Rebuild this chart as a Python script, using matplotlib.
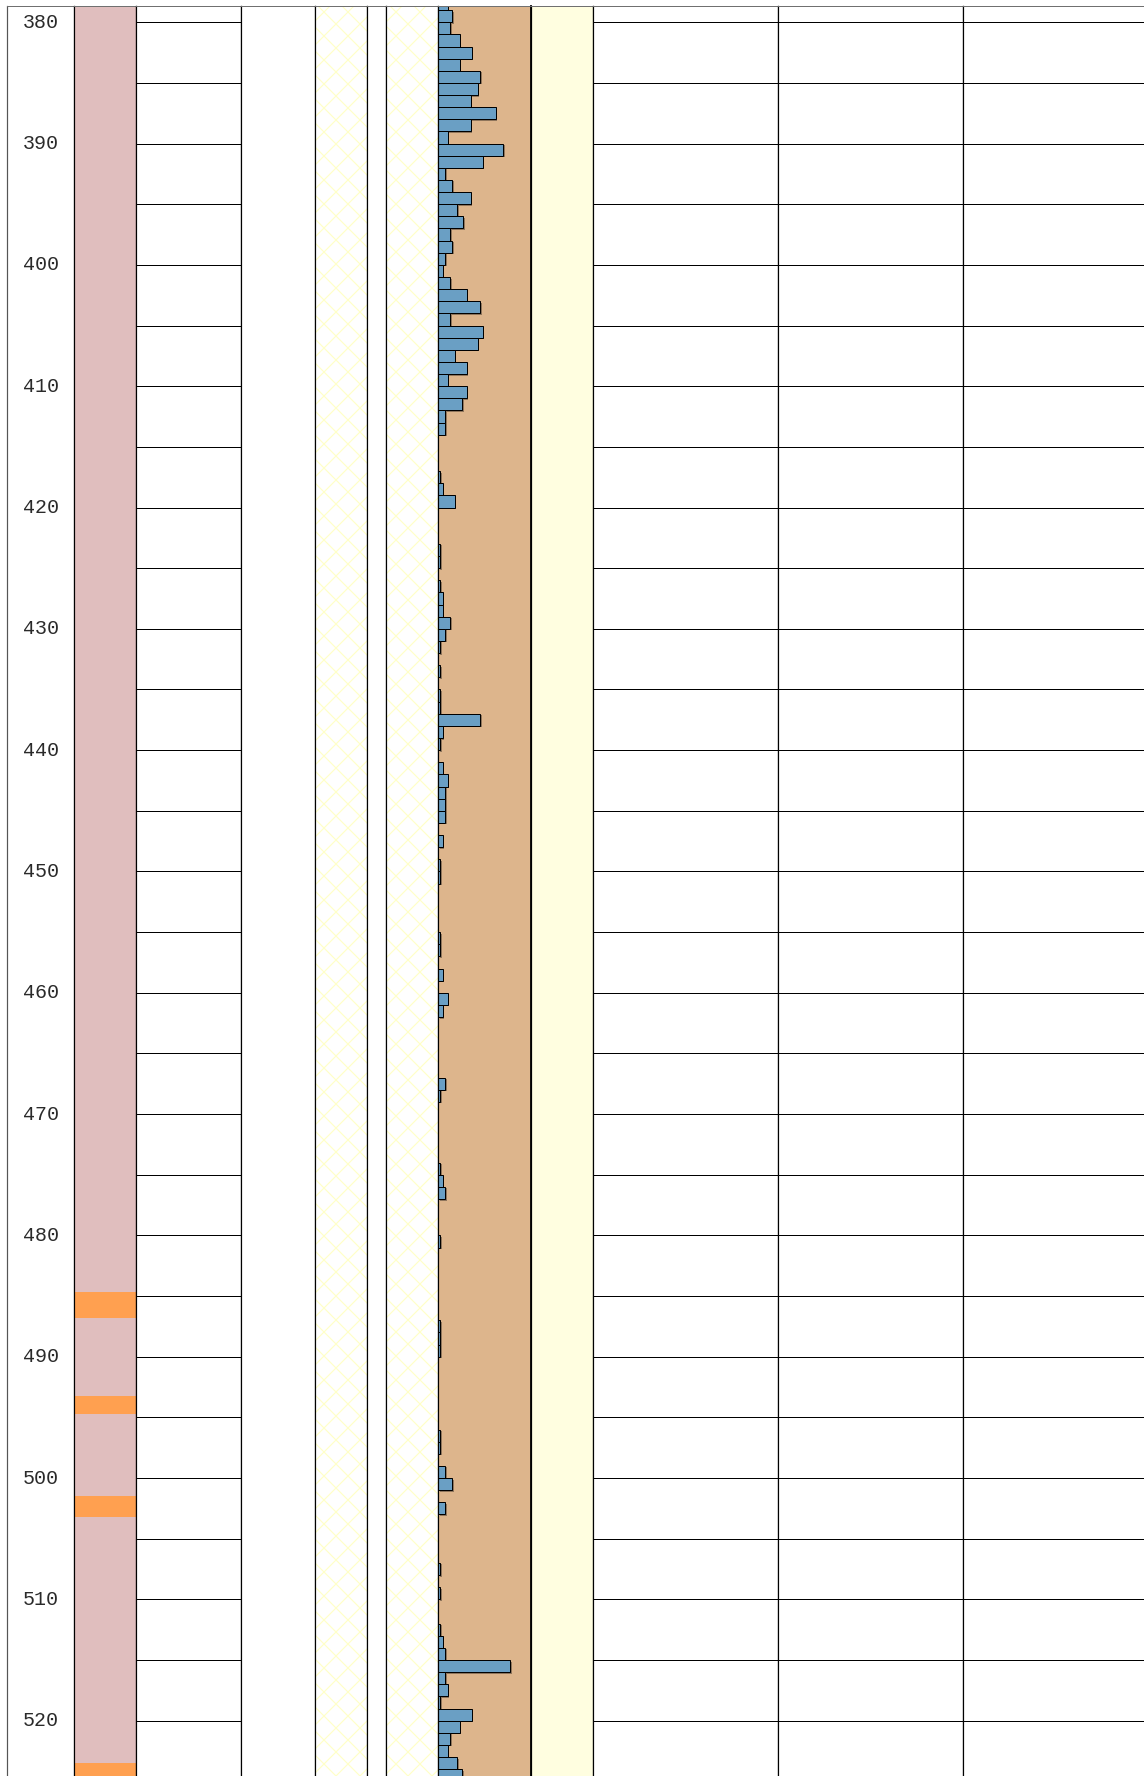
import numpy as np
import matplotlib
matplotlib.use("Agg")
import matplotlib.pyplot as plt
from matplotlib import patheffects
from matplotlib.patches import Rectangle

W, H = 1144, 1776
DPI = 72

# depth window of the log (m)
depth_min, depth_max = 378.66, 524.56

# depth labels and grid spacing
label_depths = list(range(380, 521, 10))
grid_depths = list(range(380, 521, 5))

# lithology: background unit and thin interbeds (top, base)
interbeds = [(484.7, 486.8), (493.2, 494.7), (501.5, 503.2), (523.45, 526.0)]

# fracture counts per 1 m interval, keyed by interval top
interval_top = list(range(378, 525))
counts = [
    4, 6, 5, 9, 14, 9, 17.5, 16.5, 13.5, 24,      # 378-387
    13.5, 4, 27, 18.5, 3, 6, 13.5, 8, 10.5, 5,    # 388-397
    6, 3, 2, 5, 12, 17.5, 5, 18.5, 16.5, 7,       # 398-407
    12, 4, 12, 10, 3, 3, 0, 0, 0, 1,              # 408-417
    2, 7, 0, 0, 0, 1, 1, 0, 1, 2,                 # 418-427
    2, 5, 3, 1, 0, 1, 0, 1, 1, 17.5,              # 428-437
    2, 1, 0, 2, 4, 3, 3, 3, 0, 2,                 # 438-447
    0, 1, 1, 0, 0, 0, 0, 1, 1, 0,                 # 448-457
    2, 0, 4, 2, 0, 0, 0, 0, 0, 3,                 # 458-467
    1, 0, 0, 0, 0, 0, 1, 2, 3, 0,                 # 468-477
    0, 0, 1, 0, 0, 0, 0, 0, 0, 1,                 # 478-487
    1, 1, 0, 0, 0, 0, 0, 0, 1, 1,                 # 488-497
    0, 3, 6, 0, 3, 0, 0, 0, 0, 1,                 # 498-507
    0, 1, 0, 0, 1, 2, 3, 30, 3, 4,                # 508-517
    1, 14, 9, 5, 4, 8, 10,                        # 518-524
]

# track edges in pixels
tracks = [(7, 74), (74, 136), (136, 241), (241, 315), (315, 367), (367, 386),
          (386, 438), (438, 531), (531, 593), (593, 778), (778, 963), (963, 1150)]
top_px = 6

fig = plt.figure(figsize=(W / DPI, H / DPI), dpi=DPI)
plt.rcParams["hatch.linewidth"] = 1.2

axes = []
for x0, x1 in tracks:
    ax = fig.add_axes([x0 / W, 0, (x1 - x0) / W, (H - top_px) / H])
    ax.set_ylim(depth_max, depth_min)
    ax.set_xlim(0, 1)
    ax.set_xticks([])
    ax.set_yticks([])
    ax.spines["bottom"].set_visible(False)
    for side in ("left", "right"):
        ax.spines[side].set_color("black")
        ax.spines[side].set_linewidth(1.2)
    ax.spines["top"].set_color("#707070")
    ax.spines["top"].set_linewidth(1.0)
    axes.append(ax)

(ax_depth, ax_lith, ax_grid1, ax_blank1, ax_hatch1, ax_blank2,
 ax_hatch2, ax_frac, ax_yellow, ax_g2, ax_g3, ax_g4) = axes

ax_depth.spines["left"].set_color("#555555")
ax_depth.spines["right"].set_color("#555555")
ax_g4.spines["right"].set_visible(False)

# depth labels
for d in label_depths:
    ax_depth.text(0.5, d, str(d), ha="center", va="center",
                  fontsize=20, family="Liberation Mono", color="#2a2a2a")

# lithology column
ax_lith.set_facecolor("#E0BEBE")
for top, base in interbeds:
    ax_lith.axhspan(top, base, color="#FFA050", lw=0)

# depth grids
for ax in (ax_grid1, ax_g2, ax_g3, ax_g4):
    ax.set_yticks(grid_depths)
    ax.tick_params(length=0, labelleft=False)
    ax.grid(axis="y", color="black", lw=1.0)

# cross-hatched tracks
for ax in (ax_hatch1, ax_hatch2):
    ax.add_patch(Rectangle((0, depth_min), 1, depth_max - depth_min,
                           facecolor="white", edgecolor="#FFFFC8", hatch="x", lw=0))

ax_yellow.set_facecolor("#FFFEE0")

# fracture count histogram
ax_frac.set_facecolor("#DDB58C")
ax_frac.set_xlim(0, 38.5)
tops = np.array(interval_top, dtype=float)
vals = np.array(counts, dtype=float)
keep = vals > 0
bars = ax_frac.barh(tops[keep] + 0.5, vals[keep], height=1.0,
                    color="#6A9FC4", edgecolor="black", lw=1.0)
for b in bars:
    b.set_path_effects([patheffects.SimplePatchShadow(offset=(1.5, -1.5),
                                                      shadow_rgbFace="black", alpha=0.35),
                        patheffects.Normal()])
ax_frac.spines["right"].set_linewidth(1.8)

fig.savefig("out.png", dpi=DPI, facecolor="white")
